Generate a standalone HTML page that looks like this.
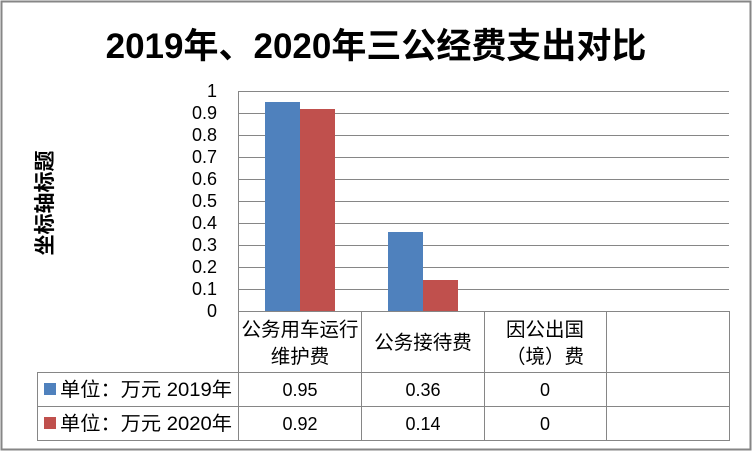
<!DOCTYPE html>
<html><head><meta charset="utf-8"><style>
body{margin:0;background:#fff}
svg{display:block}
text{font-family:"Liberation Sans","Noto Sans CJK SC",sans-serif;fill:#000}
</style></head><body>
<svg width="753" height="451" viewBox="0 0 753 451">
<rect x="1.5" y="1.5" width="749" height="448" fill="#fff" stroke="#868686" stroke-width="2"/>
<text x="376" y="58" font-size="35" font-weight="bold" text-anchor="middle">2019年、2020年三公经费支出对比</text>
<text transform="translate(52,203) rotate(-90)" font-size="21" font-weight="bold" text-anchor="middle">坐标轴标题</text>
<g stroke="#868686" stroke-width="1">
<line x1="238" y1="91.5" x2="729" y2="91.5"/><line x1="238" y1="113.5" x2="729" y2="113.5"/>
<line x1="238" y1="135.5" x2="729" y2="135.5"/><line x1="238" y1="157.5" x2="729" y2="157.5"/>
<line x1="238" y1="179.5" x2="729" y2="179.5"/><line x1="238" y1="201.5" x2="729" y2="201.5"/>
<line x1="238" y1="223.5" x2="729" y2="223.5"/><line x1="238" y1="245.5" x2="729" y2="245.5"/>
<line x1="238" y1="267.5" x2="729" y2="267.5"/><line x1="238" y1="289.5" x2="729" y2="289.5"/>
<line x1="238.5" y1="91" x2="238.5" y2="440"/>
<line x1="37.5" y1="372.5" x2="729" y2="372.5"/><line x1="37.5" y1="406.5" x2="729" y2="406.5"/>
<line x1="37.5" y1="440.5" x2="729" y2="440.5"/><line x1="37.5" y1="372" x2="37.5" y2="441"/>
<line x1="238" y1="311.5" x2="729" y2="311.5"/>
<line x1="361.5" y1="311" x2="361.5" y2="441"/><line x1="484.5" y1="311" x2="484.5" y2="441"/>
<line x1="606.5" y1="311" x2="606.5" y2="441"/><line x1="729.5" y1="311" x2="729.5" y2="441"/>
</g>
<rect x="265" y="102" width="35" height="209" fill="#4f81bd"/>
<rect x="300" y="109" width="35" height="202" fill="#c0504d"/>
<rect x="388" y="232" width="35" height="79" fill="#4f81bd"/>
<rect x="423" y="280" width="35" height="31" fill="#c0504d"/>
<g font-size="18" text-anchor="end">
<text x="217" y="97">1</text><text x="217" y="119">0.9</text><text x="217" y="141">0.8</text>
<text x="217" y="163">0.7</text><text x="217" y="185">0.6</text><text x="217" y="207">0.5</text>
<text x="217" y="229">0.4</text><text x="217" y="251">0.3</text><text x="217" y="273">0.2</text>
<text x="217" y="295">0.1</text><text x="217" y="317">0</text>
</g>
<g font-size="19.5" text-anchor="middle">
<text x="300" y="336">公务用车运行</text><text x="300" y="363">维护费</text>
<text x="423" y="349">公务接待费</text>
<text x="545" y="336">因公出国</text><text x="545" y="363">（境）费</text>
</g>
<g font-size="18" text-anchor="middle">
<text x="300" y="396">0.95</text><text x="423" y="396">0.36</text><text x="545" y="396">0</text>
<text x="300" y="430">0.92</text><text x="423" y="430">0.14</text><text x="545" y="430">0</text>
</g>
<rect x="44" y="383" width="12" height="12" fill="#4f81bd"/>
<rect x="44" y="417" width="12" height="12" fill="#c0504d"/>
<text x="60" y="396" font-size="19.5" textLength="172" lengthAdjust="spacingAndGlyphs">单位：万元 2019年</text>
<text x="60" y="430" font-size="19.5" textLength="172" lengthAdjust="spacingAndGlyphs">单位：万元 2020年</text>
</svg>
</body></html>
